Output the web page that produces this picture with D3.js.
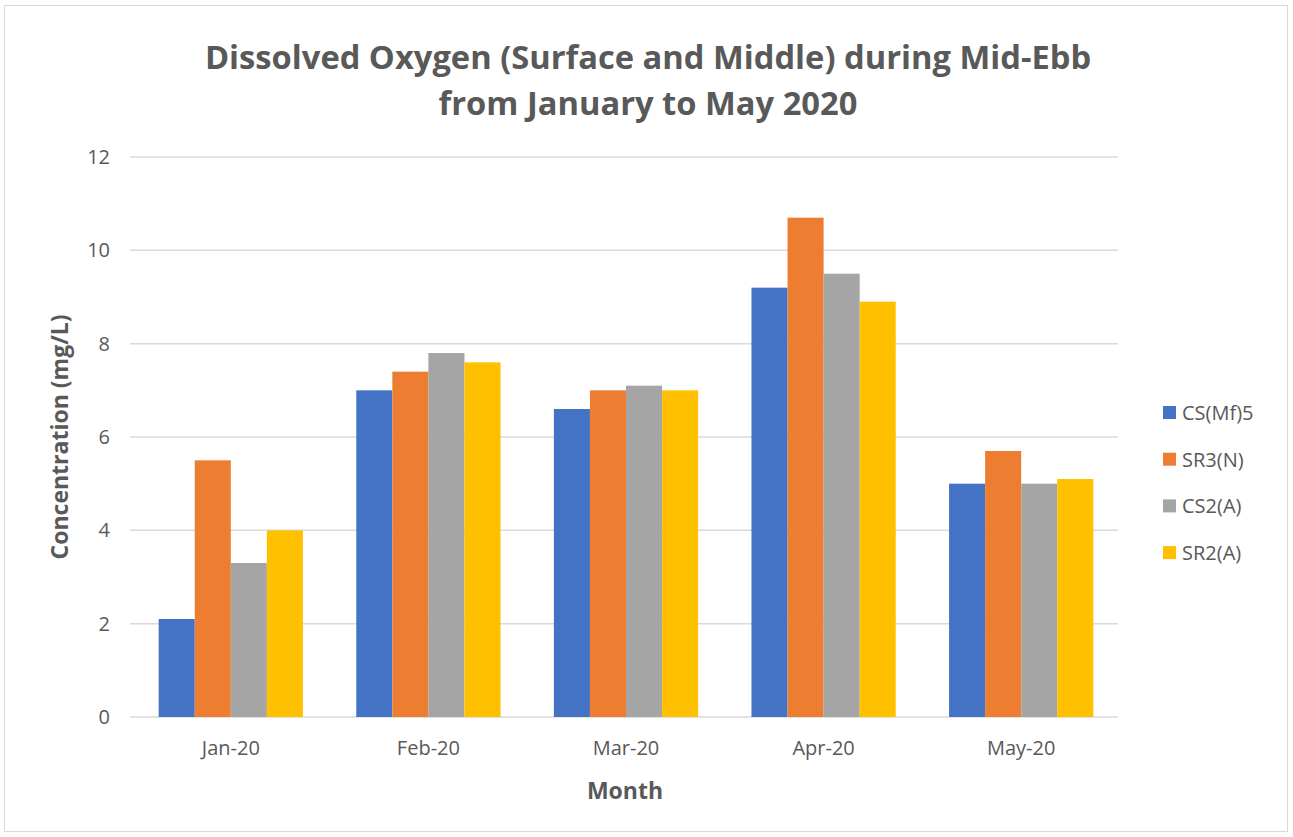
<!DOCTYPE html>
<html><head><meta charset="utf-8">
<script src="https://cdn.jsdelivr.net/npm/d3@7"></script>
<style>body{margin:0;background:#fff;} svg{display:block;}</style>
</head><body>
<svg id="c" width="1293" height="837"></svg>
<script>
const months = ["Jan-20","Feb-20","Mar-20","Apr-20","May-20"];
const seriesNames = ["CS(Mf)5","SR3(N)","CS2(A)","SR2(A)"];
const csmf5 = [2.1, 7.0, 6.6, 9.2, 5.0];
const sr3n  = [5.5, 7.4, 7.0, 10.7, 5.7];
const cs2a  = [3.3, 7.8, 7.1, 9.5, 5.0];
const sr2a  = [4.0, 7.6, 7.0, 8.9, 5.1];
const yTicks = [0,2,4,6,8,10,12];
const colors = ["#4472C4","#ED7D31","#A5A5A5","#FFC000"];
const seriesVals = [csmf5, sr3n, cs2a, sr2a];

const svg = d3.select("#c");
const font = "'Open Sans', sans-serif";
const txt = "#595959";

svg.append("rect").attr("x",4.5).attr("y",5.5).attr("width",1283).attr("height",826)
  .attr("fill","#fff").attr("stroke","#d9d9d9");

const x0 = d3.scaleBand().domain(months).range([132,1120]).paddingInner(0.27).paddingOuter(0.135);
const x1 = d3.scaleBand().domain(seriesNames).range([0,x0.bandwidth()]);
const y = d3.scaleLinear().domain([0,12]).range([717,157]);

// gridlines
svg.append("g").selectAll("line").data(yTicks).join("line")
  .attr("x1",130).attr("x2",1118).attr("y1",d=>y(d)).attr("y2",d=>y(d))
  .attr("stroke","#d9d9d9").attr("stroke-width",1.5);

// y axis labels
const yAxis = d3.axisLeft(y).tickValues(yTicks).tickSize(0).tickPadding(0);
const ya = svg.append("g").attr("transform","translate(110,0)").call(yAxis);
ya.select(".domain").remove();
ya.selectAll("text").attr("fill",txt).style("font-family",font).style("font-size","20px");

// x axis labels
const xAxis = d3.axisBottom(x0).tickSize(0).tickPadding(0);
const xa = svg.append("g").attr("transform","translate(0,741)").call(xAxis);
xa.select(".domain").remove();
xa.selectAll("text").attr("fill",txt).style("font-family",font).style("font-size","20px");

// bars
months.forEach((m,i)=>{
  svg.append("g").attr("transform",`translate(${x0(m)},0)`)
    .selectAll("rect").data(seriesNames.map((s,j)=>({s,v:seriesVals[j][i],c:colors[j]})))
    .join("rect")
    .attr("x",d=>x1(d.s)).attr("width",x1.bandwidth())
    .attr("y",d=>y(d.v)).attr("height",d=>y(0)-y(d.v)).attr("fill",d=>d.c);
});

// title
const title = svg.append("text").attr("text-anchor","middle").attr("fill",txt)
  .style("font-family",font).style("font-weight","700").style("font-size","32.7px");
title.append("tspan").attr("x",648).attr("y",69).text("Dissolved Oxygen (Surface and Middle) during Mid-Ebb");
title.append("tspan").attr("x",648).attr("y",115).text("from January to May 2020");

// axis titles
svg.append("text").attr("x",625).attr("y",799).attr("text-anchor","middle").attr("fill",txt)
  .style("font-family",font).style("font-weight","700").style("font-size","23px").text("Month");
svg.append("text").attr("transform","translate(68,437) rotate(-90)").attr("text-anchor","middle").attr("fill",txt)
  .style("font-family",font).style("font-weight","700").style("font-size","23px").text("Concentration (mg/L)");

// legend
const lg = svg.append("g").selectAll("g").data(seriesNames).join("g")
  .attr("transform",(d,i)=>`translate(1163,${413+i*46.7})`);
lg.append("rect").attr("x",0).attr("y",-7).attr("width",13).attr("height",13).attr("fill",(d,i)=>colors[i]);
lg.append("text").attr("x",19).attr("y",0).attr("dy","0.35em").attr("fill",txt)
  .style("font-family",font).style("font-size","20px").text(d=>d);
</script>
</body></html>
